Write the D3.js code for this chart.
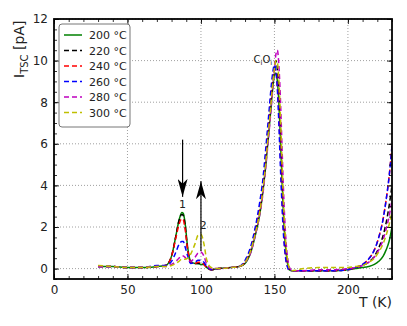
<!DOCTYPE html>
<html>
<head>
<meta charset="utf-8">
<script src="https://cdn.jsdelivr.net/npm/d3@7"></script>
<style>
  body { margin: 0; background: #fff; }
  text { font-family: "DejaVu Sans", sans-serif; }
</style>
</head>
<body>
<script>
// Temperature grid (K) shared by all curves
var temps = [30,40,50,60,70,76,80,83,85,87,88,89,91,93,96,98,100,102,104,107,112,120,126,
  130,134,137,140,142,144,146,148,149,150,151,152,153,154,155,156,157,158,159,160,162,
  170,180,190,200,205,210,214,218,221,224,226,228,230];

// Annealing temperatures (legend)
var labels = ["200 °C", "220 °C", "240 °C", "260 °C", "280 °C", "300 °C"];
var colors = ["#008000", "#000000", "#ff0000", "#0000ff", "#bf00bf", "#bfbf00"];
var dashed = [false, true, true, true, true, true];

// Current (pA) for each curve
var i200 = [0.1,0.1,0.05,0.05,0.1,0.15,0.6,1.6,2.3,2.7,2.65,2.3,1.0,0.35,0.25,0.25,0.2,0.2,0.05,-0.05,0,0.05,0.1,
  0.25,0.8,1.6,2.6,3.6,4.9,6.4,8.0,8.8,9.3,9.4,9.0,8.0,6.4,4.5,2.8,1.5,0.7,0.2,-0.05,-0.1,
  -0.1,-0.1,-0.1,-0.05,0,0.05,0.1,0.2,0.35,0.6,0.9,1.3,2.0];
var i220 = [0.1,0.1,0.05,0.05,0.1,0.15,0.6,1.6,2.3,2.6,2.55,2.2,0.9,0.3,0.25,0.25,0.25,0.2,0.05,-0.05,0,0.05,0.1,
  0.3,0.9,1.8,2.8,3.8,5.1,6.7,8.3,9.1,9.7,10.0,9.6,8.6,6.9,4.9,3.1,1.7,0.8,0.3,0.0,-0.1,
  -0.1,-0.1,-0.1,-0.05,0.05,0.15,0.3,0.6,1.0,1.6,2.2,3.0,4.0];
var i240 = [0.1,0.1,0.05,0.05,0.1,0.15,0.6,1.5,2.1,2.4,2.35,2.0,0.9,0.3,0.25,0.3,0.3,0.2,0.05,-0.05,0,0.05,0.1,
  0.3,1.0,1.9,3.0,4.0,5.4,7.0,8.6,9.3,9.6,9.5,8.8,7.5,5.6,3.7,2.1,1.0,0.4,0.1,-0.05,-0.1,
  -0.1,-0.1,-0.1,-0.05,0.05,0.2,0.45,0.9,1.5,2.4,3.3,4.4,5.9];
var i260 = [0.1,0.1,0.05,0.05,0.15,0.15,0.35,0.8,1.15,1.3,1.3,1.1,0.6,0.25,0.3,0.4,0.4,0.3,0.1,-0.05,0,0.05,0.1,
  0.4,1.1,2.0,3.2,4.2,5.7,7.3,8.9,9.5,9.8,9.5,8.6,7.0,5.0,3.3,1.8,0.9,0.3,0.05,-0.1,-0.1,
  -0.1,-0.1,-0.1,-0.05,0.05,0.2,0.45,0.9,1.5,2.4,3.3,4.4,5.9];
var i280 = [0.1,0.1,0.05,0.05,0.1,0.1,0.2,0.35,0.5,0.6,0.6,0.55,0.4,0.35,0.55,0.75,0.8,0.6,0.2,0,0,0.05,0.1,
  0.3,0.8,1.6,2.6,3.5,4.8,6.3,7.9,8.8,9.6,10.3,10.5,9.8,8.3,6.2,4.1,2.4,1.2,0.5,0.1,-0.1,
  -0.1,-0.05,-0.05,0,0.05,0.15,0.3,0.55,0.9,1.4,1.9,2.5,3.3];
var i300 = [0.15,0.1,0.05,0.05,0.1,0.1,0.15,0.25,0.35,0.45,0.45,0.45,0.5,0.7,1.2,1.6,1.65,1.2,0.4,0.05,0,0.05,0.1,
  0.3,0.9,1.7,2.7,3.7,5.0,6.6,8.2,9.0,9.6,10.0,9.9,9.1,7.5,5.5,3.5,2.0,1.0,0.4,0.05,-0.1,
  0,0.05,0.05,0.05,0.1,0.15,0.3,0.5,0.8,1.2,1.6,2.1,2.7];
var curves = [i200, i220, i240, i260, i280, i300];

var xTicks = [0, 50, 100, 150, 200];
var yTicks = [0, 2, 4, 6, 8, 10, 12];

var svgWidth = 407, svgHeight = 326;
var margin = { top: 19, right: 15, bottom: 47, left: 54 };
var chartWidth = svgWidth - margin.left - margin.right;
var chartHeight = svgHeight - margin.top - margin.bottom;

var svg = d3.select("body").append("svg")
  .attr("width", svgWidth)
  .attr("height", svgHeight);

var chartGroup = svg.append("g")
  .attr("transform", `translate(${margin.left}, ${margin.top})`);

var x = d3.scaleLinear().domain([0, 230]).range([0, chartWidth]);
var y = d3.scaleLinear().domain([-0.5, 12]).range([chartHeight, 0]);

// dotted grid
chartGroup.append("g").selectAll("line.gx")
  .data(xTicks.slice(1)).join("line")
  .attr("x1", d => x(d)).attr("x2", d => x(d))
  .attr("y1", 0).attr("y2", chartHeight)
  .attr("stroke", "#888").attr("stroke-width", 0.8).attr("stroke-dasharray", "1,2");
chartGroup.append("g").selectAll("line.gy")
  .data(yTicks).join("line")
  .attr("x1", 0).attr("x2", chartWidth)
  .attr("y1", d => y(d)).attr("y2", d => y(d))
  .attr("stroke", "#888").attr("stroke-width", 0.8).attr("stroke-dasharray", "1,2");

// curves
var line = d3.line()
  .x((d, i) => x(temps[i]))
  .y(d => y(d))
  .curve(d3.curveMonotoneX);

chartGroup.append("clipPath").attr("id", "clip")
  .append("rect").attr("width", chartWidth).attr("height", chartHeight);

chartGroup.append("g").attr("clip-path", "url(#clip)")
  .selectAll("path")
  .data(curves).join("path")
  .attr("d", d => line(d))
  .attr("fill", "none")
  .attr("stroke", (d, i) => colors[i])
  .attr("stroke-width", 1.5)
  .attr("stroke-dasharray", (d, i) => dashed[i] ? "5,3" : null);

// axes with inward ticks on all sides
var xMinor = d3.range(0, 231, 10);
var yMinor = d3.range(-0.5, 12.01, 0.5);

// bottom
var gb = chartGroup.append("g").attr("transform", `translate(0,${chartHeight})`);
gb.call(d3.axisBottom(x).tickValues(xMinor).tickSize(-3).tickFormat(""));
gb.append("g").call(d3.axisBottom(x).tickValues(xTicks).tickSize(-5).tickPadding(6));
// top
var gt = chartGroup.append("g");
gt.call(d3.axisTop(x).tickValues(xMinor).tickSize(-3).tickFormat(""));
gt.append("g").call(d3.axisTop(x).tickValues(xTicks).tickSize(-5).tickFormat(""));
// left
var gl = chartGroup.append("g");
gl.call(d3.axisLeft(y).tickValues(yMinor).tickSize(-3).tickFormat(""));
gl.append("g").call(d3.axisLeft(y).tickValues(yTicks).tickSize(-5).tickPadding(6));
// right
var gr = chartGroup.append("g").attr("transform", `translate(${chartWidth},0)`);
gr.call(d3.axisRight(y).tickValues(yMinor).tickSize(-3).tickFormat(""));
gr.append("g").call(d3.axisRight(y).tickValues(yTicks).tickSize(-5).tickFormat(""));

chartGroup.selectAll(".domain").remove();
chartGroup.selectAll(".tick line").attr("stroke", "#000").attr("stroke-width", 0.8);
chartGroup.selectAll(".tick text").attr("font-size", 12).attr("fill", "#222")
  .attr("font-family", "DejaVu Sans");

chartGroup.append("rect")
  .attr("width", chartWidth).attr("height", chartHeight)
  .attr("fill", "none").attr("stroke", "#000").attr("stroke-width", 1.8);

// annotations
var defs = svg.append("defs");
defs.append("marker").attr("id", "head")
  .attr("viewBox", "0 0 18 10").attr("refX", 18).attr("refY", 5)
  .attr("markerUnits", "userSpaceOnUse")
  .attr("markerWidth", 18).attr("markerHeight", 10).attr("orient", "auto")
  .append("path").attr("d", "M0,0L18,5L0,10L5,5Z").attr("fill", "#000");

var arrows = [
  { t: 87.5, from: 6.2, to: 3.45, label: "1", lt: 87.5, ly: 2.9 },
  { t: 100, from: 0.85, to: 4.2, label: "2", lt: 101.5, ly: 1.9 }
];
chartGroup.selectAll("line.arrow").data(arrows).join("line")
  .attr("x1", d => x(d.t)).attr("x2", d => x(d.t))
  .attr("y1", d => y(d.from)).attr("y2", d => y(d.to))
  .attr("stroke", "#000").attr("stroke-width", 1.2)
  .attr("marker-end", "url(#head)");
chartGroup.selectAll("text.alab").data(arrows).join("text")
  .attr("x", d => x(d.lt)).attr("y", d => y(d.ly))
  .attr("text-anchor", "middle").attr("font-size", 11).attr("fill", "#222")
  .text(d => d.label);

var cio = chartGroup.append("text")
  .attr("x", x(148.5)).attr("y", y(9.9))
  .attr("text-anchor", "end").attr("font-size", 10).attr("fill", "#222");
cio.append("tspan").text("C");
cio.append("tspan").attr("font-size", 7).attr("dy", 2).text("i");
cio.append("tspan").attr("dy", -2).text("O");
cio.append("tspan").attr("font-size", 7).attr("dy", 2).text("i");

// legend
var legend = chartGroup.append("g").attr("transform", "translate(5,5)");
legend.append("rect")
  .attr("width", 71).attr("height", 103).attr("rx", 3)
  .attr("fill", "#fff").attr("stroke", "#777").attr("stroke-width", 1);
var items = legend.selectAll("g.item").data(labels).join("g")
  .attr("transform", (d, i) => `translate(0,${11 + i * 15.5})`);
items.append("line")
  .attr("x1", 5).attr("x2", 23)
  .attr("stroke", (d, i) => colors[i]).attr("stroke-width", 1.5)
  .attr("stroke-dasharray", (d, i) => dashed[i] ? "5,3" : null);
items.append("text")
  .attr("x", 30).attr("y", 4).attr("font-size", 11).attr("fill", "#222")
  .text(d => d);

// axis titles
var yl = svg.append("text")
  .attr("transform", "translate(24,78) rotate(-90)")
  .attr("font-size", 14).attr("fill", "#222");
yl.append("tspan").text("I");
yl.append("tspan").attr("font-size", 10).attr("dy", 4).text("TSC");
yl.append("tspan").attr("dy", -4).text(" [pA]");

svg.append("text")
  .attr("x", margin.left + chartWidth).attr("y", 307)
  .attr("text-anchor", "end").attr("font-size", 14).attr("fill", "#222")
  .text("T (K)");
</script>
</body>
</html>
